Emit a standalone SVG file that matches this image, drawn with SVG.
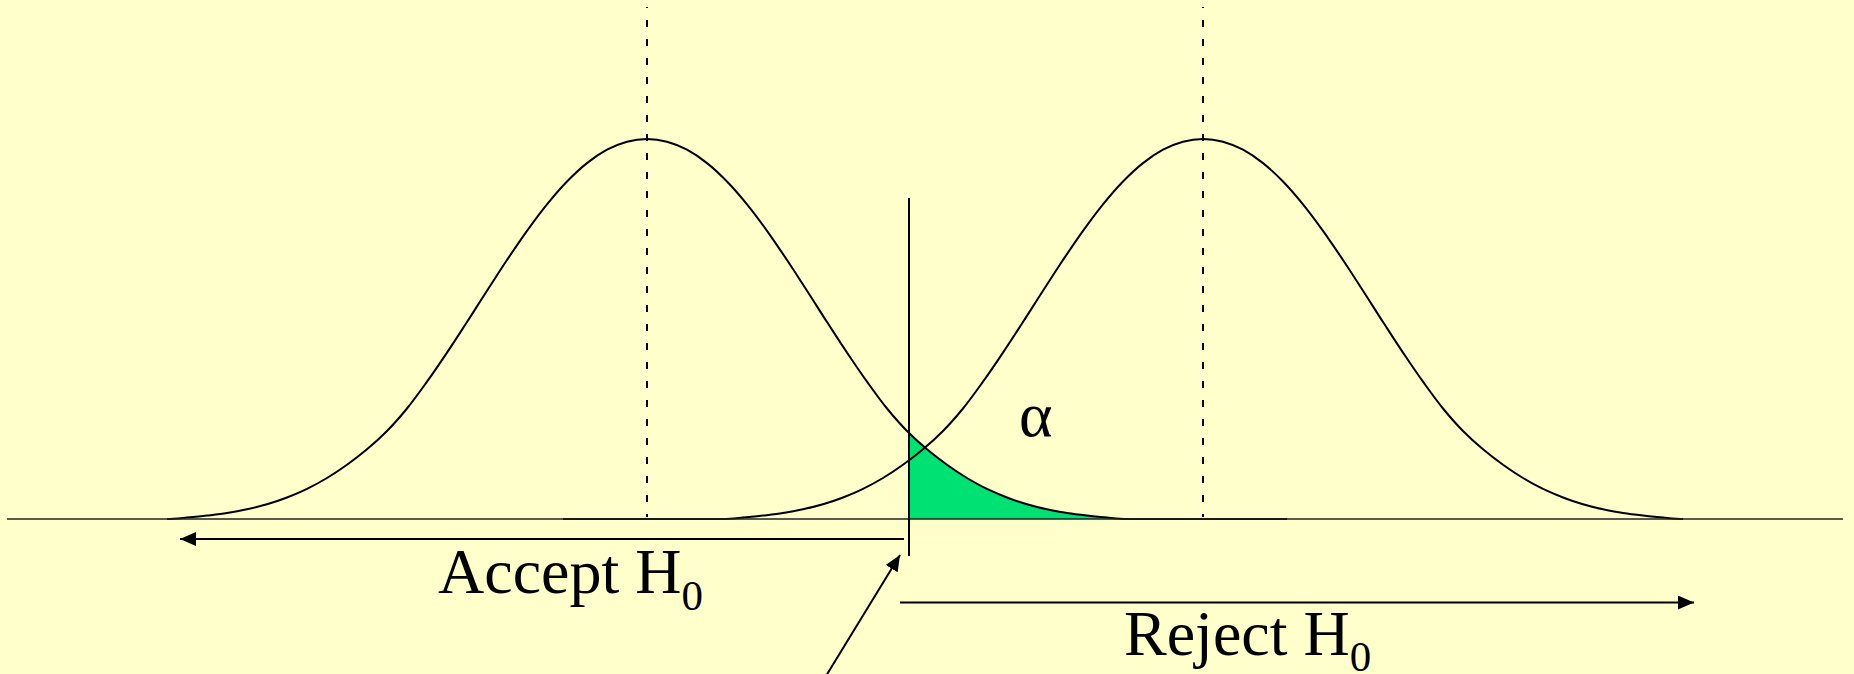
<svg xmlns="http://www.w3.org/2000/svg" xmlns:xlink="http://www.w3.org/1999/xlink" width="1854" height="674" viewBox="0 0 1854 674">
<style>
.curve{fill:none;stroke:#000;stroke-width:2;stroke-linejoin:round}
.axis{stroke:#222;stroke-width:1.6;fill:none}
.tail{stroke:#000;stroke-width:2;fill:none}
.dash{stroke:#000;stroke-width:2;stroke-dasharray:7 12;stroke-dashoffset:6;fill:none}
.conn{stroke:#000;stroke-width:2;fill:none}
.lbl{font-family:"Liberation Serif","Times New Roman",serif;font-size:64px;fill:#000}
.sub{font-size:43px}
</style>
<defs>
<marker id="ah" markerUnits="userSpaceOnUse" markerWidth="17" markerHeight="15" refX="16" refY="7" orient="auto" viewBox="0 0 17 15">
<path d="M0,0 L16,7 L0,14 Z" fill="#000"/>
</marker>
<path id="bell" class="curve" d="M167,519 C173.7,519 180.3,518.2 187,517.6 S200.3,516.4 207,515.6 S220.3,514.1 227,513.0 S240.3,510.8 247,509.3 S260.3,506.3 267,504.3 S280.3,500.1 287,497.5 S300.3,492.2 307,488.9 S320.3,482.0 327,478.0 S340.3,469.6 347,464.8 S360.3,454.9 367,449.3 S380.3,437.8 387,431.0 S400.3,416.7 407,408.5 S420.3,391.0 427,381.7 S440.3,362.6 447,352.6 S460.3,332.3 467,322.0 S480.3,301.0 487,290.7 S500.3,270.0 507,260.0 S520.3,240.1 527,230.8 S540.3,212.5 547,204.3 S560.3,188.4 567,181.5 S580.3,168.4 587,163.1 S600.3,153.3 607,149.7 S620.3,143.5 627,141.7 S640.3,139 647,139 S660.3,139.9 667,141.7 S680.3,146.1 687,149.7 S700.3,157.8 707,163.1 S720.3,174.6 727,181.5 S740.3,196.1 747,204.3 S760.3,221.5 767,230.8 S780.3,250.0 787,260.0 S800.3,280.4 807,290.7 S820.3,311.7 827,322.0 S840.3,342.7 847,352.6 S860.3,372.4 867,381.7 S880.3,400.3 887,408.5 S900.3,424.2 907,431.0 S920.3,443.7 927,449.3 S940.3,460.0 947,464.8 S960.3,474.0 967,478.0 S980.3,485.7 987,488.9 S1000.3,494.9 1007,497.5 S1020.3,502.3 1027,504.3 S1040.3,507.9 1047,509.3 S1060.3,512.0 1067,513.0 S1080.3,514.8 1087,515.6 S1100.3,517.0 1107,517.6 C1113.7,518.2 1120.3,519 1127,519"/>
</defs>
<rect width="1854" height="674" fill="#FFFFCC"/>
<g id="alpha-region">
<path d="M909,519 L909,432.8 C915,438.5 920.3,443.7 927,449.3 S940.3,460.0 947,464.8 S960.3,474.0 967,478.0 S980.3,485.7 987,488.9 S1000.3,494.9 1007,497.5 S1020.3,502.3 1027,504.3 S1040.3,507.9 1047,509.3 S1060.3,512.0 1067,513.0 S1080.3,514.8 1087,515.6 S1100.3,517.0 1107,517.6 C1113.7,518.2 1120.3,519 1127,519 Z" fill="#00E173"/>
</g>
<g id="null-curve">
<use xlink:href="#bell" href="#bell"/>
<line class="tail" x1="1127" y1="519" x2="1287" y2="519"/>
<line class="dash" x1="647" y1="7" x2="647" y2="517"/>
</g>
<g id="alt-curve">
<use xlink:href="#bell" href="#bell" x="556"/>
<line class="tail" x1="563" y1="519" x2="723" y2="519"/>
<line class="dash" x1="1203" y1="7" x2="1203" y2="517"/>
</g>
<g id="axis">
<line class="axis" x1="7" y1="519" x2="1843" y2="519"/>
</g>
<g id="critical-line">
<line class="conn" x1="909" y1="198" x2="909" y2="556" stroke-width="1.8"/>
</g>
<g id="connectors">
<line class="conn" x1="904" y1="539" x2="180" y2="539" marker-end="url(#ah)"/>
<line class="conn" x1="900" y1="602.5" x2="1694" y2="602.5" marker-end="url(#ah)"/>
<line class="conn" x1="826" y1="676" x2="900" y2="555" marker-end="url(#ah)"/>
</g>
<g id="label-alpha">
<text class="lbl" x="1019" y="436" font-size="62">α</text>
</g>
<g id="label-accept">
<text class="lbl" x="438" y="593">Accept H<tspan class="sub" dy="17">0</tspan></text>
</g>
<g id="label-reject">
<text class="lbl" x="1124" y="655">Reject H<tspan class="sub" dy="16">0</tspan></text>
</g>
</svg>
